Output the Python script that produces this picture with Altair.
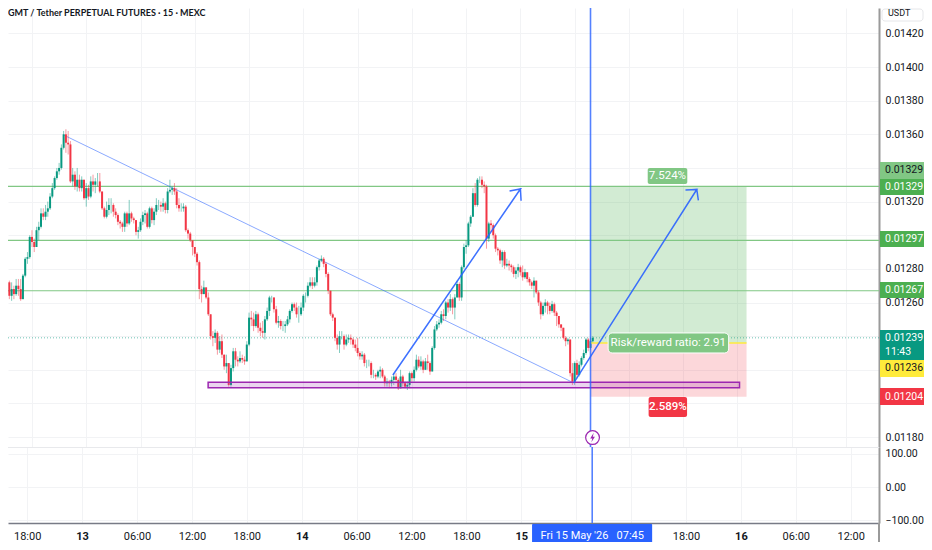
import altair as alt
import pandas as pd

# ---- candle values, in 0.00001 USDT, one row of ten per line
closes = [
1266,1272,1264,1268,1265,1270,1268,1262,1276,1286,
1287,1299,1296,1293,1303,1305,1313,1311,1314,1316,
1323,1328,1334,1338,1340,1352,1360,1355,1354,1332,
1336,1329,1333,1328,1333,1322,1328,1323,1332,1330,
1332,1332,1326,1316,1311,1315,1318,1318,1314,1312,
1308,1307,1305,1313,1307,1313,1310,1309,1302,1303,
1308,1312,1313,1305,1316,1309,1314,1318,1318,1317,
1319,1315,1326,1327,1328,1326,1318,1316,1316,1317,
1303,1301,1297,1293,1289,1284,1268,1265,1269,1263,
1253,1240,1239,1242,1232,1237,1229,1222,1224,1211,
1221,1231,1226,1225,1227,1226,1225,1235,1251,1250,
1246,1253,1245,1243,1242,1250,1255,1263,1263,1256,
1248,1249,1246,1246,1247,1250,1255,1259,1257,1253,
1253,1257,1264,1264,1270,1272,1270,1272,1281,1285,
1286,1283,1277,1267,1253,1251,1239,1235,1240,1240,
1235,1238,1239,1238,1235,1233,1230,1228,1229,1224,
1224,1224,1217,1217,1216,1219,1220,1216,1212,1213,
1212,1214,1216,1214,1209,1216,1212,1210,1211,1218,
1215,1220,1226,1222,1225,1220,1225,1224,1219,1233,
1244,1247,1248,1253,1252,1260,1257,1262,1257,1263,
1271,1263,1281,1293,1294,1307,1311,1325,1318,1333,
1333,1330,1329,1298,1307,1306,1300,1292,1291,1285,
1290,1282,1283,1282,1281,1277,1279,1281,1278,1275,
1278,1274,1272,1270,1273,1266,1260,1253,1258,1260,
1258,1255,1259,1254,1252,1247,1245,1239,1237,1238,
1218,1213,1224,1217,1223,1227,1230,1238,1233,1237,
1239]
highs = [
1271,1274,1273,1272,1270,1274,1274,1274,1277,1287,
1290,1300,1303,1298,1305,1308,1316,1316,1318,1320,
1325,1331,1335,1340,1343,1354,1362,1363,1362,1356,
1340,1338,1340,1336,1335,1333,1331,1330,1335,1336,
1334,1337,1337,1326,1317,1320,1322,1322,1319,1316,
1313,1309,1308,1314,1314,1321,1314,1311,1309,1305,
1310,1314,1315,1314,1317,1317,1316,1322,1321,1320,
1322,1320,1328,1333,1329,1331,1328,1322,1319,1319,
1318,1304,1302,1296,1293,1290,1285,1270,1273,1269,
1266,1253,1243,1244,1243,1240,1241,1229,1229,1224,
1223,1233,1233,1228,1231,1229,1228,1237,1254,1255,
1254,1255,1254,1248,1249,1252,1257,1264,1264,1263,
1258,1252,1250,1249,1249,1252,1256,1260,1260,1260,
1258,1260,1265,1266,1272,1275,1275,1275,1282,1286,
1288,1287,1284,1278,1267,1254,1251,1241,1243,1243,
1241,1241,1241,1241,1239,1238,1239,1231,1231,1230,
1226,1226,1225,1220,1218,1220,1222,1221,1217,1215,
1214,1216,1218,1218,1215,1220,1217,1213,1213,1219,
1219,1222,1229,1228,1228,1226,1227,1229,1225,1234,
1246,1249,1250,1255,1256,1261,1262,1265,1263,1265,
1273,1272,1282,1295,1297,1308,1312,1328,1331,1334,
1335,1335,1332,1330,1308,1309,1307,1301,1293,1292,
1291,1291,1286,1285,1283,1282,1281,1283,1282,1282,
1280,1278,1275,1273,1275,1273,1267,1261,1260,1262,
1261,1260,1261,1260,1255,1252,1247,1245,1240,1239,
1238,1224,1225,1226,1225,1228,1232,1239,1239,1239,
1240]
lows = [
1262,1264,1262,1261,1262,1264,1264,1261,1262,1275,
1283,1286,1293,1290,1293,1297,1304,1309,1309,1311,
1315,1322,1327,1333,1336,1339,1351,1349,1348,1331,
1329,1327,1326,1326,1326,1321,1317,1321,1322,1326,
1325,1329,1325,1315,1310,1310,1312,1313,1311,1310,
1306,1304,1302,1302,1305,1306,1308,1307,1300,1298,
1302,1306,1307,1304,1304,1307,1306,1312,1315,1314,
1314,1313,1313,1325,1324,1324,1316,1314,1314,1314,
1302,1298,1296,1288,1287,1282,1262,1260,1265,1262,
1252,1238,1234,1236,1229,1230,1227,1220,1218,1210,
1210,1219,1222,1222,1224,1224,1223,1225,1234,1246,
1243,1245,1242,1240,1239,1238,1249,1252,1260,1254,
1247,1245,1244,1243,1242,1246,1248,1254,1255,1251,
1248,1252,1255,1260,1263,1269,1268,1269,1270,1279,
1284,1281,1275,1265,1252,1249,1237,1232,1230,1238,
1232,1234,1236,1235,1233,1231,1228,1226,1226,1222,
1221,1222,1215,1215,1214,1215,1215,1215,1210,1210,
1209,1210,1211,1212,1208,1209,1210,1209,1208,1209,
1213,1213,1219,1221,1220,1218,1220,1220,1217,1219,
1232,1243,1245,1247,1249,1250,1254,1255,1253,1250,
1263,1261,1261,1280,1289,1293,1305,1311,1317,1317,
1331,1328,1325,1292,1296,1302,1298,1290,1288,1283,
1281,1280,1281,1279,1278,1275,1274,1275,1276,1273,
1274,1272,1270,1268,1263,1265,1258,1250,1252,1254,
1253,1253,1254,1252,1246,1245,1243,1238,1234,1235,
1216,1211,1211,1215,1216,1222,1226,1229,1231,1232,
1236]
assert len(closes) == len(highs) == len(lows) == 261

level_prices = [0.01329, 0.01297, 0.01267]
price_ticks = [0.01420, 0.01400, 0.01380, 0.01360, 0.01340, 0.01320, 0.01300,
               0.01280, 0.01260, 0.01240, 0.01220, 0.01200, 0.01180]
osc_ticks = [100, 0, -100]
time_ticks = [12, 36, 60, 84, 108, 132, 156, 180, 204, 228, 252, 276, 300, 324, 348, 372]
# the two labels under the date tag are covered in the reference
time_labels = ["18:00", "13", "06:00", "12:00", "18:00", "14", "06:00", "12:00",
               "18:00", "15", "", "", "18:00", "16", "06:00", "12:00"]
day_ticks = [36, 132, 228, 324]

trend_k = [26, 251.6]
trend_p = [0.013596, 0.012122]
arrow1_k = [171.6, 228, 223.2, 228, 228.3]
arrow1_p = [0.012169, 0.013275, 0.013263, 0.013275, 0.013205]
arrow2_k = [251.6, 306, 301, 306, 306.7]
arrow2_p = [0.012122, 0.013272, 0.013269, 0.013272, 0.013207]

entry, target, stop = 0.01236, 0.01329, 0.01204
bar_k, pos_end_k = 259, 328
zone = dict(k=89.9, k2=324.9, p=0.012126, p2=0.012094)

BLUE, TEAL, RED, GREEN, LGREEN = "#2962ff", "#089981", "#f23645", "#4caf50", "#81c784"
FONT = "Roboto"
INK = "#131722"

# ---- frames
opens = [closes[0]] + closes[:-1]
candles = pd.DataFrame({
    "k": range(len(closes)),
    "o": [v / 1e5 for v in opens], "h": [v / 1e5 for v in highs],
    "l": [v / 1e5 for v in lows], "c": [v / 1e5 for v in closes],
})
candles["dir"] = ["up" if c >= o else "down" for o, c in zip(opens, closes)]

W, H1, H2 = 871, 439, 76
xs = alt.Scale(domain=[3.606, 384.37], range=[0, W], nice=False, zero=False)
ys = alt.Scale(domain=[0.011741, 0.014351], range=[H1, 0], nice=False, zero=False)
ys2 = alt.Scale(domain=[-109, 121.2], range=[H2, 0], nice=False, zero=False)
col = alt.Color("dir:N", scale=alt.Scale(domain=["up", "down"], range=[TEAL, RED]), legend=None)

GRID = "#f2f3f5"
x_hidden = alt.Axis(values=time_ticks, labels=False, ticks=False, domain=False, title=None,
                    grid=True, gridColor=GRID)
labelmap = "{" + ",".join(f"{k}:'{v}'" for k, v in zip(time_ticks, time_labels)) + "}"
x_axis = alt.Axis(values=time_ticks, ticks=False, title=None, grid=True, gridColor=GRID,
                  labelExpr=f"{labelmap}[datum.value]", labelFont=FONT, labelFontSize=11,
                  labelColor=INK, labelPadding=7, labelOverlap=False,
                  labelFontWeight={"condition": {"test": f"indexof({day_ticks},datum.value)>=0",
                                                 "value": "bold"}, "value": "normal"},
                  domainColor="#787b86", domainWidth=1.5)
# labels that sit behind the price tags in the reference are left blank
y_axis = alt.Axis(orient="right", values=price_ticks, ticks=False, title=None,
                  labelExpr="(abs(datum.value-0.0134)<1e-7||abs(datum.value-0.0130)<1e-7||"
                            "abs(datum.value-0.0124)<1e-7||abs(datum.value-0.0122)<1e-7||"
                            "abs(datum.value-0.0120)<1e-7)?'':format(datum.value,'.5f')",
                  labelFont=FONT, labelFontSize=10.5, labelColor=INK, labelPadding=6,
                  labelOverlap=False, grid=True, gridColor=GRID,
                  domainColor="#9a9a9a", domainWidth=2)
y2_axis = alt.Axis(orient="right", values=osc_ticks, format=".2f", ticks=False, title=None,
                   labelFont=FONT, labelFontSize=10.5, labelColor=INK, labelPadding=6,
                   labelOverlap=False, grid=True, gridColor=GRID,
                   domainColor="#9a9a9a", domainWidth=2)

X = alt.X("k:Q", scale=xs, axis=x_hidden)
Y = alt.Y("p:Q", scale=ys, axis=y_axis)

base = alt.Chart(pd.DataFrame({"k": time_ticks[:13], "p": price_ticks})).mark_point(opacity=0).encode(x=X, y=Y)


def box(k, k2, p, p2, color, opacity=1.0, radius=0, stroke=None, sw=0):
    d = pd.DataFrame({"k": [k], "k2": [k2], "p": [p], "p2": [p2]})
    kw = dict(color=color, opacity=opacity, cornerRadius=radius)
    if stroke:
        kw.update(stroke=stroke, strokeWidth=sw)
    return alt.Chart(d).mark_rect(**kw).encode(x=X, x2="k2:Q", y=Y, y2="p2:Q")


def label(k, p, text, color="white", size=11.5, weight="normal"):
    d = pd.DataFrame({"k": [k], "p": [p], "t": [text]})
    return alt.Chart(d).mark_text(color=color, font=FONT, fontSize=size, fontWeight=weight).encode(
        x=X, y=Y, text="t:N")


def path(ks, ps, color, width, opacity=1.0):
    d = pd.DataFrame({"k": ks, "p": ps, "i": range(len(ks))})
    return alt.Chart(d).mark_line(color=color, strokeWidth=width, opacity=opacity).encode(
        x=X, y=Y, order="i:Q")


levels = alt.Chart(pd.DataFrame({"p": level_prices})).mark_rule(color=LGREEN, strokeWidth=1.2).encode(y=Y)
last_line = alt.Chart(pd.DataFrame({"p": [0.01239]})).mark_rule(
    color=TEAL, strokeWidth=1, strokeDash=[1, 2], opacity=0.6).encode(y=Y)

wicks = alt.Chart(candles).mark_rule(clip=True, strokeWidth=1, opacity=0.5).encode(
    x=X, y=alt.Y("l:Q", scale=ys, axis=y_axis), y2="h:Q", color=col)
bodies = alt.Chart(candles).mark_bar(clip=True, size=2).encode(
    x=X, y=alt.Y("o:Q", scale=ys, axis=y_axis), y2="c:Q", color=col)

vline = alt.Chart(pd.DataFrame({"k": [bar_k]})).mark_rule(color=BLUE, strokeWidth=1.6, opacity=0.8).encode(x=X)

entry_line = path([bar_k, pos_end_k], [entry, entry], "#ffeb3b", 1.5)

# lightning marker
bolt = "M0.25,-1 L-0.5,0.2 L-0.05,0.2 L-0.25,1 L0.5,-0.2 L0.05,-0.2 Z"
marker_d = pd.DataFrame({"k": [bar_k + 0.9], "p": [0.011797]})
marker_ring = alt.Chart(marker_d).mark_point(shape="circle", size=190, fill="white", filled=True,
                                              stroke="#9c27b0", strokeWidth=1.2, opacity=1).encode(x=X, y=Y)
marker_bolt = alt.Chart(marker_d).mark_point(shape=bolt, size=90, fill="#9c27b0", filled=True, opacity=1).encode(x=X, y=Y)

# price tags on the right-hand scale
tags = pd.DataFrame({
    "top":  [0.013435, 0.013334, 0.013025, 0.012722, 0.012437, 0.012258, 0.012092],
    "bot":  [0.013334, 0.013239, 0.012930, 0.012627, 0.012258, 0.012157, 0.011990],
    "fill": [LGREEN, GREEN, GREEN, GREEN, TEAL, "#ffeb3b", RED],
})
tag_rects = alt.Chart(tags).mark_rect().encode(
    x=alt.value(872), x2=alt.value(916),
    y=alt.Y("top:Q", scale=ys, axis=y_axis), y2="bot:Q",
    color=alt.Color("fill:N", scale=None))
tag_texts = pd.DataFrame({
    "p": [0.013385, 0.013286, 0.012977, 0.012674, 0.012389, 0.012306, 0.012208, 0.012041],
    "t": ["0.01329", "0.01329", "0.01297", "0.01267", "0.01239", "11:43", "0.01236", "0.01204"],
    "ink": [INK, "white", "white", "white", "white", "white", INK, "white"],
})
tag_labels = alt.Chart(tag_texts).mark_text(align="left", font=FONT, fontSize=10.5).encode(
    x=alt.value(877), y=alt.Y("p:Q", scale=ys, axis=y_axis), text="t:N",
    color=alt.Color("ink:N", scale=None))

usdt_box = alt.Chart(pd.DataFrame({"a": [1]})).mark_rect(
    fill="white", stroke="#e6e7ea", strokeWidth=1, cornerRadius=3).encode(
    x=alt.value(874), x2=alt.value(915), y=alt.value(1), y2=alt.value(13))
usdt_text = alt.Chart(pd.DataFrame({"t": ["USDT"]})).mark_text(
    align="left", font=FONT, fontSize=9, color=INK).encode(
    x=alt.value(880), y=alt.value(5), text="t:N")

title_text = alt.Chart(pd.DataFrame({"t": ["GMT / Tether PERPETUAL FUTURES · 15 · MEXC"]})).mark_text(
    align="left", font="Lato", fontSize=9, fontWeight="bold", color=INK).encode(
    x=alt.value(0), y=alt.value(4.5), text="t:N")

main = alt.layer(
    base,
    box(bar_k, pos_end_k, target, entry, GREEN, 0.25),
    box(bar_k, pos_end_k, entry, stop, RED, 0.2),
    levels, last_line,
    path(trend_k, trend_p, BLUE, 1, 0.55),
    wicks, bodies,
    box(zone["k"], zone["k2"], zone["p"], zone["p2"], "#9c27b0", 0.2),
    box(zone["k"], zone["k2"], zone["p"], zone["p2"], "#9c27b0", 1, stroke="#9c27b0", sw=1.4).mark_rect(
        fill=None, stroke="#9c27b0", strokeWidth=1.5),
    entry_line, vline,
    path(arrow1_k, arrow1_p, BLUE, 1.5, 0.9),
    path(arrow2_k, arrow2_p, BLUE, 1.5, 0.9),
    marker_ring, marker_bolt,
    box(284.3, 301.8, 0.013400, 0.013305, LGREEN, 1, 2),
    label(293, 0.013352, "7.524%"),
    box(284.7, 301.7, 0.012038, 0.011920, RED, 1, 2),
    label(293.2, 0.011979, "2.589%", weight=500),
    box(266.8, 320.1, 0.012419, 0.012300, LGREEN, 1, 4, stroke="white", sw=1),
    label(293.4, 0.012360, "Risk/reward ratio: 2.91"),
    tag_rects, tag_labels, usdt_box, usdt_text, title_text,
).properties(width=W, height=H1)

# lower pane and time scale
sub_df = pd.DataFrame({"k": time_ticks[:3], "v": osc_ticks})
SX = alt.X("k:Q", scale=xs, axis=x_axis)
sub_base = alt.Chart(sub_df).mark_point(opacity=0).encode(
    x=SX, y=alt.Y("v:Q", scale=ys2, axis=y2_axis))
sub_vline = alt.Chart(pd.DataFrame({"k": [bar_k]})).mark_rule(color=BLUE, strokeWidth=1.6, opacity=0.8).encode(x=SX)
sub_sep = alt.Chart(pd.DataFrame({"a": [1]})).mark_rule(color="#e8e9ec", strokeWidth=1).encode(
    x=alt.value(0), x2=alt.value(W), y=alt.value(0.5))
tag_x = pd.DataFrame({"k": [232.7], "k2": [285.2]})
sub_tag = alt.Chart(tag_x).mark_rect(color=BLUE, cornerRadius=1).encode(
    x=SX, x2="k2:Q", y=alt.value(H2 + 1), y2=alt.value(H2 + 25))
sub_tag_text = alt.Chart(pd.DataFrame({"k": [259], "t": ["Fri 15 May '26\u00a0\u00a0\u00a007:45"]})).mark_text(
    color="white", font=FONT, fontSize=11).encode(x=SX, y=alt.value(H2 + 13), text="t:N")
right_ext = alt.Chart(pd.DataFrame({"a": [1]})).mark_rule(color="#9a9a9a", strokeWidth=2).encode(
    x=alt.value(W), y=alt.value(H2), y2=alt.value(H2 + 25))

sub = alt.layer(sub_base, sub_sep, sub_vline, sub_tag, sub_tag_text, right_ext).properties(width=W, height=H2)

chart = alt.vconcat(main, sub, spacing=0, bounds="flush").resolve_scale(
    x="independent", y="independent", color="independent"
).properties(
    autosize=alt.AutoSizeParams(type="none"),
    padding={"left": 0, "top": 0, "right": 45, "bottom": 534},
    background="white",
).configure_view(stroke=None)

chart.save("out.html", embed_options={"renderer": "svg", "actions": False})
